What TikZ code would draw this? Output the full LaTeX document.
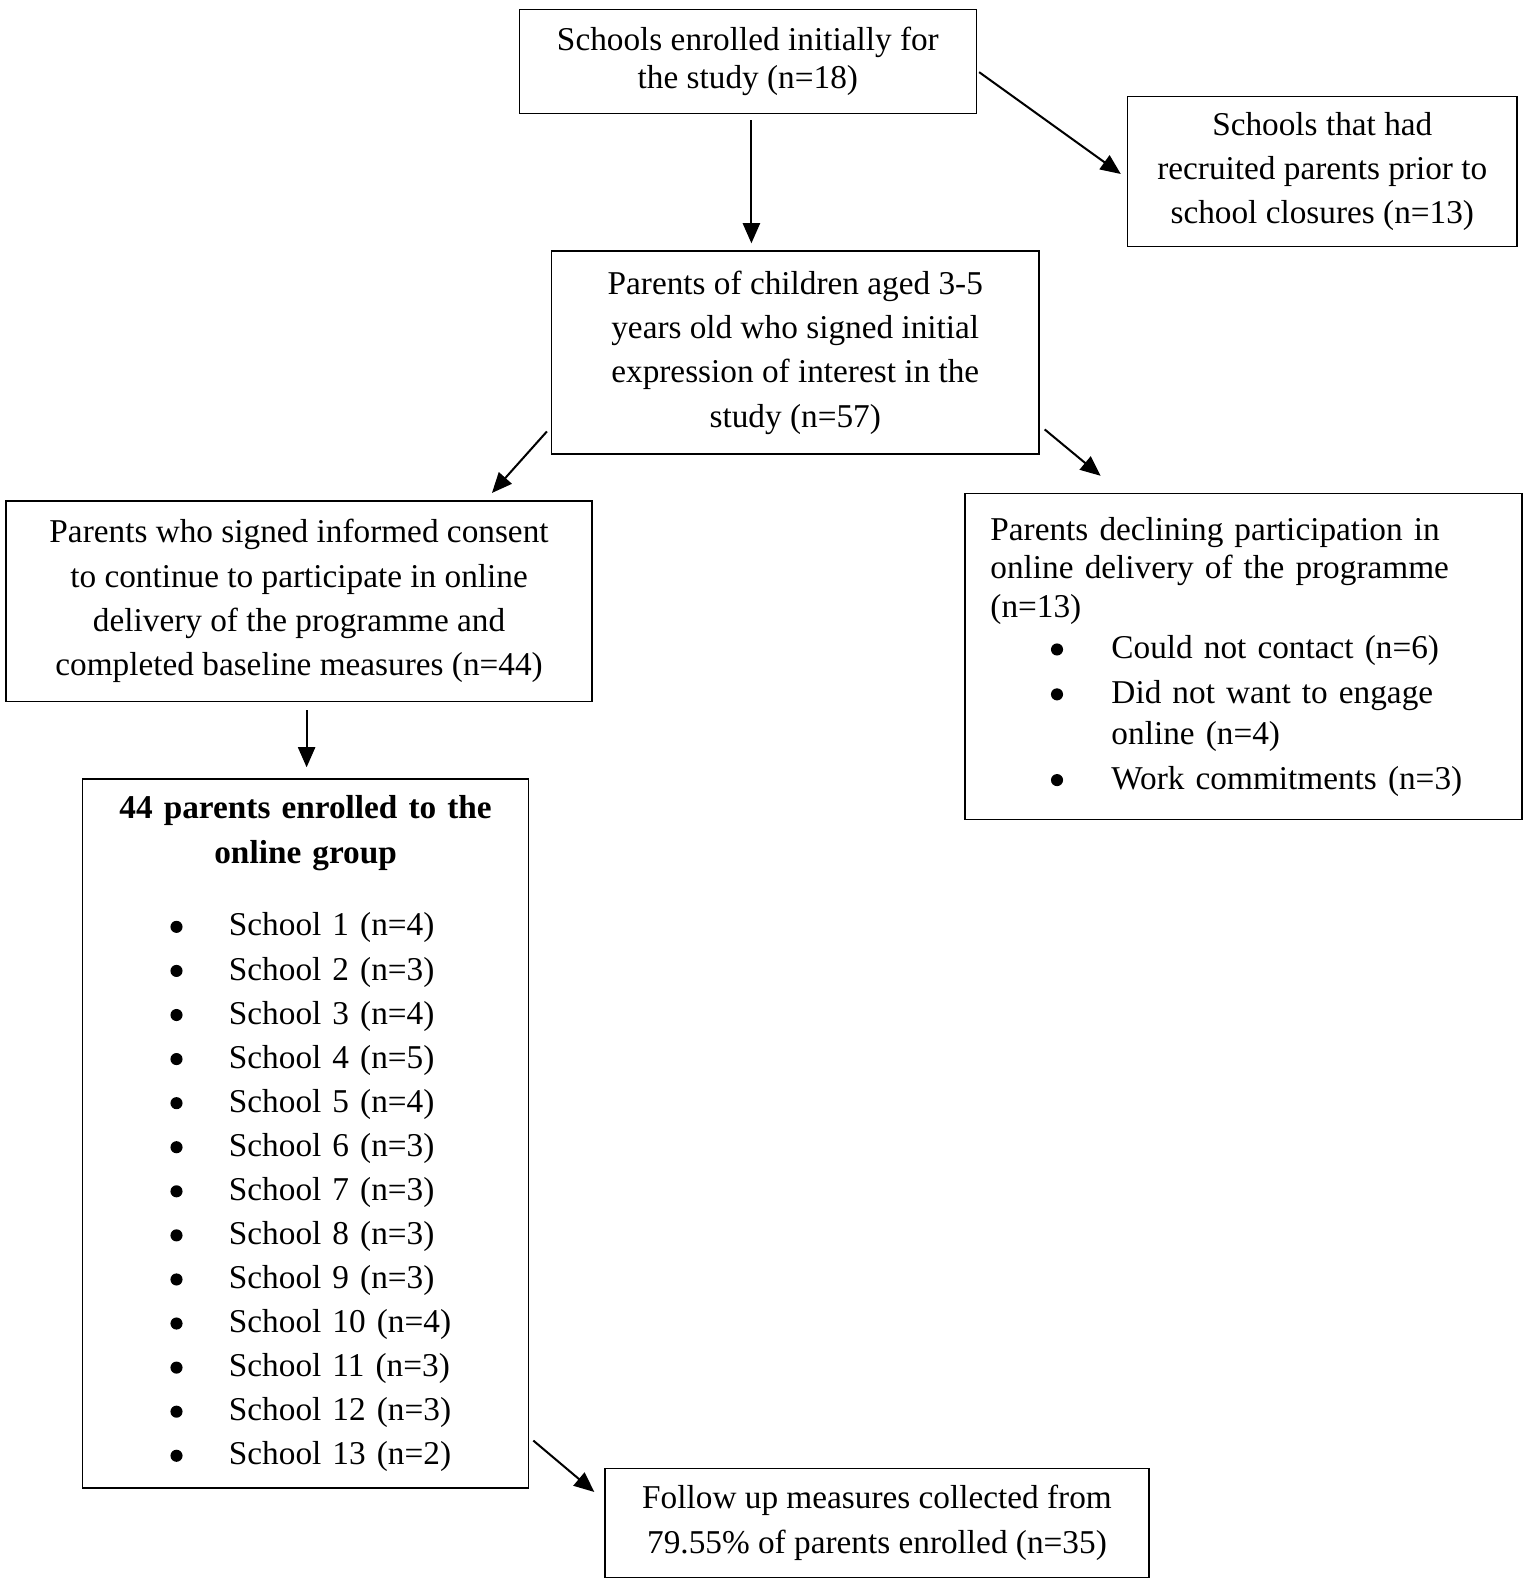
\documentclass[tikz,border=0pt]{standalone}
\usepackage{fontspec}
\setmainfont{Liberation Serif}
\usetikzlibrary{arrows.meta}
\newcommand\bulmark{\tikz[baseline=0pt]\fill (0pt,9pt) circle[radius=6pt];}
\begin{document}
\begin{tikzpicture}[x=1pt,y=-1pt,
  box/.style={draw,line width=1.5pt,inner sep=0pt,font=\fontsize{33}{44}\selectfont,align=center},
  arr/.style={line width=2pt,-{Triangle[length=20pt,width=17pt]}}]
\useasboundingbox (0,0) rectangle (1511,1569.5);
\node[box,minimum width=453pt,minimum height=103pt,font=\fontsize{33}{38}\selectfont] (top) at (741.5,61)
  {Schools enrolled initially for\\the study (n=18)};
\node[box,minimum width=386pt,minimum height=149pt] (rt) at (1311,170)
  {Schools that had\\recruited parents prior to\\school closures (n=13)};
\node[box,minimum width=483pt,minimum height=201pt] (mid) at (788.5,349.5)
  {Parents of children aged 3-5\\years old who signed initial\\expression of interest in the\\study (n=57)};
\node[box,minimum width=581pt,minimum height=199pt] (lc) at (296.5,596)
  {Parents who signed informed consent\\to continue to participate in online\\delivery of the programme and\\completed baseline measures (n=44)};
\node[box,minimum width=552pt,minimum height=323pt,inner xsep=25pt,text width=502pt,align=left,font=\fontsize{33}{38.5}\selectfont] (rd) at (1233,651)
  {Parents declining participation in\\
   online delivery of the programme\\
   (n=13)\\[2pt]
   \hspace*{60pt}\makebox[60pt][l]{\bulmark}Could not contact (n=6)\\[6pt]
   \hspace*{60pt}\makebox[60pt][l]{\bulmark}Did not want to engage\\[2pt]
   \hspace*{120pt}online (n=4)\\[6pt]
   \hspace*{60pt}\makebox[60pt][l]{\bulmark}Work commitments (n=3)};
\node[box,minimum width=442pt,minimum height=703pt,text width=442pt,align=left,font=\fontsize{33}{43.7}\selectfont] (enr) at (303,1124)
  {\makebox[442pt][c]{\bfseries 44 parents enrolled to the}\\[1pt]
   \makebox[442pt][c]{\bfseries online group}\\[28pt]
   \hspace*{87pt}\makebox[58pt][l]{\bulmark}School 1 (n=4)\\
   \hspace*{87pt}\makebox[58pt][l]{\bulmark}School 2 (n=3)\\
   \hspace*{87pt}\makebox[58pt][l]{\bulmark}School 3 (n=4)\\
   \hspace*{87pt}\makebox[58pt][l]{\bulmark}School 4 (n=5)\\
   \hspace*{87pt}\makebox[58pt][l]{\bulmark}School 5 (n=4)\\
   \hspace*{87pt}\makebox[58pt][l]{\bulmark}School 6 (n=3)\\
   \hspace*{87pt}\makebox[58pt][l]{\bulmark}School 7 (n=3)\\
   \hspace*{87pt}\makebox[58pt][l]{\bulmark}School 8 (n=3)\\
   \hspace*{87pt}\makebox[58pt][l]{\bulmark}School 9 (n=3)\\
   \hspace*{87pt}\makebox[58pt][l]{\bulmark}School 10 (n=4)\\
   \hspace*{87pt}\makebox[58pt][l]{\bulmark}School 11 (n=3)\\
   \hspace*{87pt}\makebox[58pt][l]{\bulmark}School 12 (n=3)\\
   \hspace*{87pt}\makebox[58pt][l]{\bulmark}School 13 (n=2)};
\node[box,minimum width=539pt,minimum height=108pt] (fol) at (869.5,1510)
  {Follow up measures collected from\\79.55\% of parents enrolled (n=35)};
\draw[arr] ([xshift=3.5pt,yshift=-6pt]top.south) -- ([xshift=-43.5pt,yshift=7pt]mid.north);
\draw[arr] ([xshift=2pt,yshift=-10.5pt]top.east) -- ([xshift=-6pt,yshift=-2.5pt]rt.west);
\draw[arr] ([xshift=-4pt,yshift=23pt]mid.south west) -- ([xshift=-100pt,yshift=7pt]lc.north east);
\draw[arr] ([xshift=5pt,yshift=25pt]mid.south east) -- ([xshift=135pt,yshift=17pt]rd.north west);
\draw[arr] ([xshift=7.5pt,yshift=-8pt]lc.south) -- ([xshift=1pt,yshift=11pt]enr.north);
\draw[arr] ([xshift=4pt,yshift=48pt]enr.south east) -- ([xshift=-10pt,yshift=-24pt]fol.north west);
\end{tikzpicture}
\end{document}
